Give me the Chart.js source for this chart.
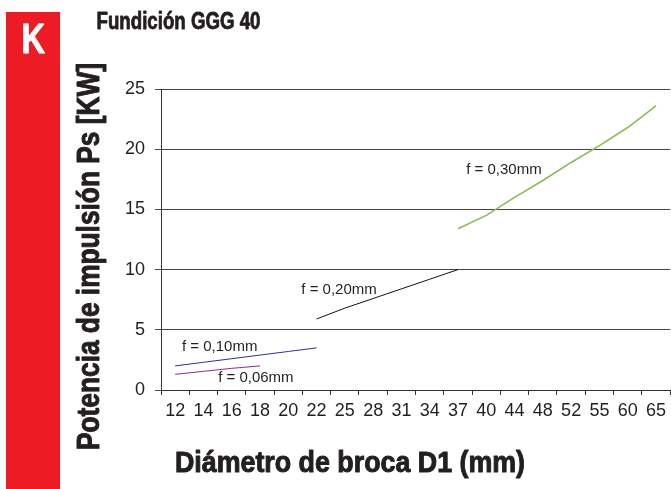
<!DOCTYPE html>
<html>
<head>
<meta charset="utf-8">
<script src="https://cdn.jsdelivr.net/npm/chart.js@4/dist/chart.umd.min.js"></script>
<style>
  html, body { margin: 0; padding: 0; background: #fff; }
  #wrap { width: 671px; height: 489px; position: relative; }
</style>
</head>
<body>
<div id="wrap"><canvas id="powerChart"></canvas></div>
<script>
// Drill diameters D1 (mm)
const diameters = ['12', '14', '16', '18', '20', '22', '25', '28', '31', '34', '37', '40', '44', '48', '52', '55', '60', '65'];
const yTicks = [0, 5, 10, 15, 20, 25];

// Drive power Ps [KW] per feed
const feed006 = [1.3, 1.55, 1.8, 2.0, null, null, null, null, null, null, null, null, null, null, null, null, null, null];
const feed010 = [2.0, 2.3, 2.6, 2.9, 3.2, 3.5, null, null, null, null, null, null, null, null, null, null, null, null];
const feed020 = [null, null, null, null, null, 5.9, 6.8, 7.6, 8.4, 9.2, 10.0, null, null, null, null, null, null, null];
const feed030 = [null, null, null, null, null, null, null, null, null, null, 13.4, 14.5, 16.0, 17.4, 18.9, 20.3, 21.8, 23.6];

const ink = '#231f20';
const sans = '"Liberation Sans", Arial, Helvetica, sans-serif';

// heavy bold text squeezed horizontally to a given width (condensed look)
function condensed(ctx, text, size, width, x, y, angle, weight) {
  ctx.save();
  ctx.font = 'bold ' + size + 'px ' + sans;
  const sx = width / ctx.measureText(text).width;
  ctx.translate(x, y);
  if (angle) ctx.rotate(angle);
  ctx.scale(sx, 1);
  ctx.textAlign = 'center';
  ctx.textBaseline = 'alphabetic';
  ctx.fillText(text, 0, 0);
  if (weight) {
    ctx.strokeStyle = ctx.fillStyle;
    ctx.lineWidth = weight;
    ctx.lineJoin = 'round';
    ctx.strokeText(text, 0, 0);
  }
  ctx.restore();
}

// red "K" tab, headings and curve labels
const decorations = {
  id: 'decorations',
  afterDraw(chart) {
    const ctx = chart.ctx;
    const x = chart.scales.x, y = chart.scales.y;
    ctx.save();

    ctx.fillStyle = '#ed1c24';
    ctx.fillRect(6, 12, 54, 477);
    ctx.fillStyle = '#fff';
    condensed(ctx, 'K', 42, 23.5, 33.3, 53.3, 0, 1);

    ctx.fillStyle = ink;
    condensed(ctx, 'Fundición GGG 40', 23, 164, 178.5, 28.6, 0, 0.8);
    condensed(ctx, 'Diámetro de broca D1 (mm)', 30, 350, 350, 472, 0, 1);
    condensed(ctx, 'Potencia de impulsión Ps [KW]', 32, 387, 99.3, 256.5, -Math.PI / 2, 1);

    ctx.font = '15px ' + sans;
    ctx.textAlign = 'left';
    ctx.textBaseline = 'middle';
    const labels = [
      ['f = 0,30mm', 10.29, 18.3],
      ['f = 0,20mm', 4.46, 8.3],
      ['f = 0,10mm', 0.24, 3.6],
      ['f = 0,06mm', 1.52, 0.97]
    ];
    labels.forEach(([txt, cx, cy]) => {
      ctx.fillText(txt, x.getPixelForValue(cx), y.getPixelForValue(cy));
    });
    ctx.restore();
  }
};

function line(data, color, width) {
  return { data, borderColor: color, borderWidth: width, pointRadius: 0, fill: false, tension: 0, spanGaps: false };
}

new Chart(document.getElementById('powerChart'), {
  type: 'line',
  data: {
    labels: diameters,
    datasets: [
      line(feed006, '#92278f', 1),
      line(feed010, '#2e3192', 1),
      line(feed020, '#111111', 1),
      line(feed030, '#8cbb4e', 1.6)
    ]
  },
  options: {
    responsive: true,
    maintainAspectRatio: false,
    animation: false,
    layout: { padding: { top: 89, right: 0, left: 0, bottom: 0 } },
    plugins: { legend: { display: false }, tooltip: { enabled: false } },
    scales: {
      x: {
        offset: true,
        grid: { offset: true, drawOnChartArea: false, tickLength: 5, color: '#333', lineWidth: 1 },
        border: { color: '#333', width: 1 },
        ticks: { color: ink, font: { size: 18, family: sans }, padding: 5, maxRotation: 0, autoSkip: false },
        afterFit(scale) { scale.height = 99; }
      },
      y: {
        min: 0,
        max: 25,
        afterBuildTicks(scale) { scale.ticks = yTicks.map(v => ({ value: v })); },
        grid: { color: '#444', lineWidth: 1, tickLength: 6 },
        border: { color: '#333', width: 1 },
        ticks: { color: ink, font: { size: 18, family: sans }, padding: 10 },
        afterFit(scale) { scale.width = 161; }
      }
    }
  },
  plugins: [decorations]
});
</script>
</body>
</html>
